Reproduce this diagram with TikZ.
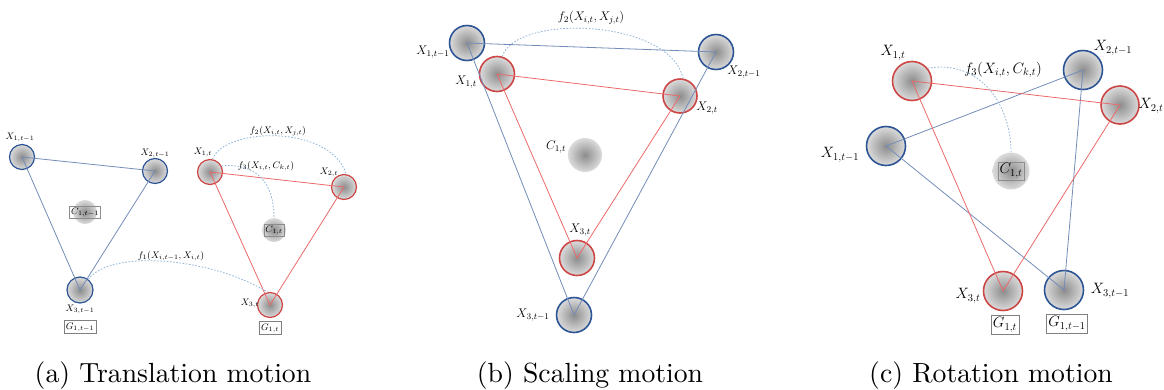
\RequirePackage{fix-cm}
\documentclass[tikz,border=0pt]{standalone}
\usepackage{fontspec}
\definecolor{prevblue}{RGB}{45,85,150}
\definecolor{curred}{RGB}{205,70,70}
\definecolor{prevline}{RGB}{115,140,185}
\definecolor{curline}{RGB}{235,105,105}
\definecolor{flowblue}{RGB}{145,180,215}
\pgfdeclareradialshading{disc}{\pgfpoint{0bp}{0bp}}{color(0bp)=(black!45); color(25bp)=(black!14); color(50bp)=(black!14)}
\tikzset{
	prev/.style={circle,draw=prevblue,line width=1.6pt,inner sep=0pt,minimum size=#1,shade,shading=disc},
	cur/.style={circle,draw=curred,line width=1.6pt,inner sep=0pt,minimum size=#1,shade,shading=disc},
	cent/.style={circle,inner sep=0pt,minimum size=#1,shade,shading=disc},
	prevlink/.style={draw=prevline,line width=0.8pt},
	curlink/.style={draw=curline,line width=0.8pt},
	flow/.style={draw=flowblue,line width=0.8pt,dash pattern=on 1.6pt off 1.6pt},
	gbox/.style={draw=black!50,line width=0.6pt,fill=white,inner sep=2pt},
	cbox/.style={draw=black!45,line width=0.5pt,inner sep=1.5pt},
	lbla/.style={font=\fontsize{9.5}{11}\selectfont},
	lblb/.style={font=\fontsize{12.5}{14}\selectfont},
	lblc/.style={font=\fontsize{15}{17}\selectfont},
	capt/.style={anchor=base,inner sep=0pt},
}
\newcommand{\captxt}[1]{\scalebox{2.77}{#1}}
\begin{document}
\begin{tikzpicture}[x=1pt,y=-1pt]
	\useasboundingbox (0,0) rectangle (1164,389);
	% (a) translation
	\node[prev=25pt,line width=1.2pt] (pa1) at (22,157) {};
	\node[prev=25pt,line width=1.2pt] (pa2) at (155,171) {};
	\node[prev=26pt,line width=1.2pt] (pa3) at (80,290) {};
	\node[cur=25pt,line width=1.2pt] (ca1) at (210,172) {};
	\node[cur=25pt,line width=1.2pt] (ca2) at (344,187) {};
	\node[cur=25pt,line width=1.2pt] (ca3) at (270,305) {};
	\node[cent=24pt] (ga0) at (85,212) {};
	\node[cent=24pt] (ga1) at (274,230) {};
	\draw[prevlink] (pa1.center)--(pa2.center)--(pa3.center)--cycle;
	\draw[curlink] (ca1.center)--(ca2.center)--(ca3.center)--cycle;
	\draw[flow] (pa3.52) .. controls +(22,-30) and +(-58,-35) .. (ca3.100);
	\draw[flow] (ca1.79) .. controls +(12,-32) and +(-16,-50) .. (ca2.80);
	\draw[flow] (ca1.28) .. controls +(37,-3) and +(0,-33) .. (ga1.north);
	\node[lbla] (lpa1) at (20,137) {$X_{1,t-1}$};
	\node[lbla] (lpa2) at (155,153) {$X_{2,t-1}$};
	\node[lbla] (lpa3) at (80,309) {$X_{3,t-1}$};
	\node[lbla] (lca1) at (203,152) {$X_{1,t}$};
	\node[lbla] (lca2) at (329,172) {$X_{2,t}$};
	\node[lbla] (lca3) at (250,303) {$X_{3,t}$};
	\node[lbla,cbox] (lga0) at (ga0) {$C_{1,t-1}$};
	\node[lbla,cbox] (lga1) at (ga1) {$C_{1,t}$};
	\node[lbla] (fa1) at (171,256) {$f_1(X_{i,t-1},X_{i,t})$};
	\node[lbla] (fa2) at (278,131) {$f_2(X_{i,t},X_{j,t})$};
	\node[lbla] (fa3) at (266,166) {$f_3(X_{i,t},C_{k,t})$};
	\node[lbla,gbox] (gpa) at (80,327) {$G_{1,t-1}$};
	\node[lbla,gbox] (gca) at (270,328) {$G_{1,t}$};
	% (b) scaling
	\node[prev=35pt] (pb1) at (467,43) {};
	\node[prev=35pt] (pb2) at (716,52) {};
	\node[prev=35pt] (pb3) at (574,315) {};
	\node[cur=35pt] (cb1) at (497,74) {};
	\node[cur=34pt] (cb2) at (680,96) {};
	\node[cur=35pt] (cb3) at (577,258) {};
	\node[cent=34pt] (gb) at (585,155) {};
	\draw[prevlink] (pb1.center)--(pb2.center)--(pb3.center)--cycle;
	\draw[curlink] (cb1.center)--(cb2.center)--(cb3.center)--cycle;
	\draw[flow] (cb1.73) .. controls +(13,-43) and +(-13,-60) .. (cb2.80);
	\node[lblb] (lpb1) at (433,52) {$X_{1,t-1}$};
	\node[lblb] (lpb2) at (744,72) {$X_{2,t-1}$};
	\node[lblb] (lpb3) at (533,315) {$X_{3,t-1}$};
	\node[lblb] (lcb1) at (466,82) {$X_{1,t}$};
	\node[lblb] (lcb2) at (707,108) {$X_{2,t}$};
	\node[lblb] (lcb3) at (580,230) {$X_{3,t}$};
	\node[lblb] (lgb) at (556,147) {$C_{1,t}$};
	\node[lblb] (fb2) at (591,18) {$f_2(X_{i,t},X_{j,t})$};
	% (c) rotation
	\node[prev=39pt] (pc1) at (886,146) {};
	\node[prev=39pt] (pc2) at (1083,70) {};
	\node[prev=39pt] (pc3) at (1064,290) {};
	\node[cur=39pt] (cc1) at (912,81) {};
	\node[cur=38pt] (cc2) at (1120,105) {};
	\node[cur=39pt] (cc3) at (1003,291) {};
	\node[cent=37pt] (gc) at (1011,171) {};
	\draw[prevlink] (pc1.center)--(pc2.center)--(pc3.center)--cycle;
	\draw[curlink] (cc1.center)--(cc2.center)--(cc3.center)--cycle;
	\draw[flow] (cc1.39) .. controls +(52,-9) and +(0,-48) .. (gc.north);
	\node[lblc] (lpc1) at (840,155) {$X_{1,t-1}$};
	\node[lblc] (lpc2) at (1113,48) {$X_{2,t-1}$};
	\node[lblc] (lpc3) at (1110,291) {$X_{3,t-1}$};
	\node[lblc] (lcc1) at (893,53) {$X_{1,t}$};
	\node[lblc] (lcc2) at (1151,106) {$X_{2,t}$};
	\node[lblc] (lcc3) at (968,296) {$X_{3,t}$};
	\node[lblc,cbox] (lgc) at (gc) {$C_{1,t}$};
	\node[lblc] (fc3) at (1003,70) {$f_3(X_{i,t},C_{k,t})$};
	\node[lblc,gbox] (gcc) at (1005,325) {$G_{1,t}$};
	\node[lblc,gbox] (gpc) at (1067,324) {$G_{1,t-1}$};
	% captions
	\node[capt] (capa) at (173,382) {\captxt{(a) Translation motion}};
	\node[capt] (capb) at (590,382) {\captxt{(b) Scaling motion}};
	\node[capt] (capc) at (991,382) {\captxt{(c) Rotation motion}};
\end{tikzpicture}
\end{document}
